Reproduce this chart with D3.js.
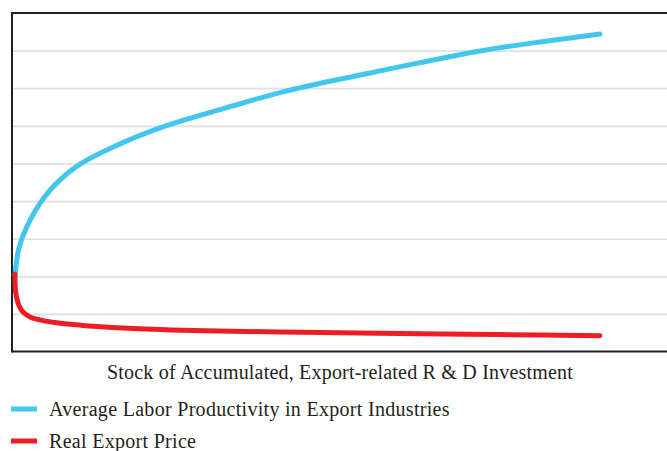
<!DOCTYPE html>
<html>
<head>
<meta charset="utf-8">
<script src="https://cdn.jsdelivr.net/npm/d3@7"></script>
<style>
  body { margin: 0; background: #fff; }
  text { font-family: "Liberation Serif", "DejaVu Serif", serif; fill: #231f20; }
</style>
</head>
<body>
<div id="app"></div>
<script>
// values (x: 0-100 stock of R&D, y: grid units 0-9)
const productivityX = [0.46, 0.92, 1.53, 2.75, 4.27, 6.56, 10.38, 15.73, 23.36, 32.52, 41.98, 53.13, 62.29, 71.45, 80.61, 89.77]
const productivityY = [2.03, 2.64, 3.01, 3.49, 3.94, 4.43, 4.98, 5.46, 5.99, 6.47, 6.93, 7.35, 7.68, 7.99, 8.23, 8.44]
const priceX = [0.46, 0.53, 0.92, 1.53, 2.75, 6.56, 14.2, 21.83, 29.47, 40.92, 50.08, 59.24, 74.5, 89.77]
const priceY = [2.06, 1.63, 1.29, 1.08, 0.92, 0.77, 0.65, 0.59, 0.55, 0.52, 0.5, 0.48, 0.45, 0.42]
const gridTicks = [1, 2, 3, 4, 5, 6, 7, 8]
const seriesNames = ['Average Labor Productivity in Export Industries', 'Real Export Price']
const seriesColors = ['#41c6ef', '#ee1c25']
const axisTitle = 'Stock of Accumulated, Export-related R & D Investment'

const W = 667, H = 451
const svg = d3.select('#app').append('svg').attr('width', W).attr('height', H)

const x = d3.scaleLinear().domain([0, 100]).range([12, 667])
const y = d3.scaleLinear().domain([0, 9]).range([351.5, 13])

// grid
svg.append('g')
  .attr('transform', 'translate(12,0)')
  .call(d3.axisLeft(y).tickValues(gridTicks).tickSize(-(W - 12)).tickFormat(''))
  .call(g => g.select('.domain').remove())
  .call(g => g.selectAll('line').attr('stroke', '#e0e0e0').attr('stroke-width', 1.8))

// frame
const frame = svg.append('g').attr('stroke', '#231f20').attr('stroke-width', 2)
frame.append('line').attr('x1', x(0)).attr('x2', W).attr('y1', y(9)).attr('y2', y(9))
frame.append('line').attr('x1', x(0)).attr('x2', W).attr('y1', y(0)).attr('y2', y(0))
frame.append('line').attr('x1', x(0)).attr('x2', x(0)).attr('y1', y(9) - 1).attr('y2', y(0) + 1)

const line = d3.line().x(d => x(d[0])).y(d => y(d[1])).curve(d3.curveCatmullRom.alpha(0.5))

const series = [
  d3.zip(productivityX, productivityY),
  d3.zip(priceX, priceY)
]

svg.selectAll('path.series').data(series).enter().append('path')
  .attr('class', 'series')
  .attr('d', line)
  .attr('fill', 'none')
  .attr('stroke', (d, i) => seriesColors[i])
  .attr('stroke-width', 5)
  .attr('stroke-linecap', 'round')

svg.append('text')
  .attr('x', 340).attr('y', 379)
  .attr('text-anchor', 'middle')
  .attr('font-size', 20)
  .attr('letter-spacing', 0.2)
  .text(axisTitle)

const legend = svg.selectAll('g.legend').data(seriesNames).enter().append('g')
  .attr('class', 'legend')
  .attr('transform', (d, i) => `translate(0,${409 + i * 32})`)

legend.append('line')
  .attr('x1', 11).attr('x2', 37)
  .attr('stroke', (d, i) => seriesColors[i])
  .attr('stroke-width', 5)

legend.append('text')
  .attr('x', 49).attr('y', 7)
  .attr('font-size', 20)
  .attr('letter-spacing', 0.3)
  .text(d => d)
</script>
</body>
</html>
